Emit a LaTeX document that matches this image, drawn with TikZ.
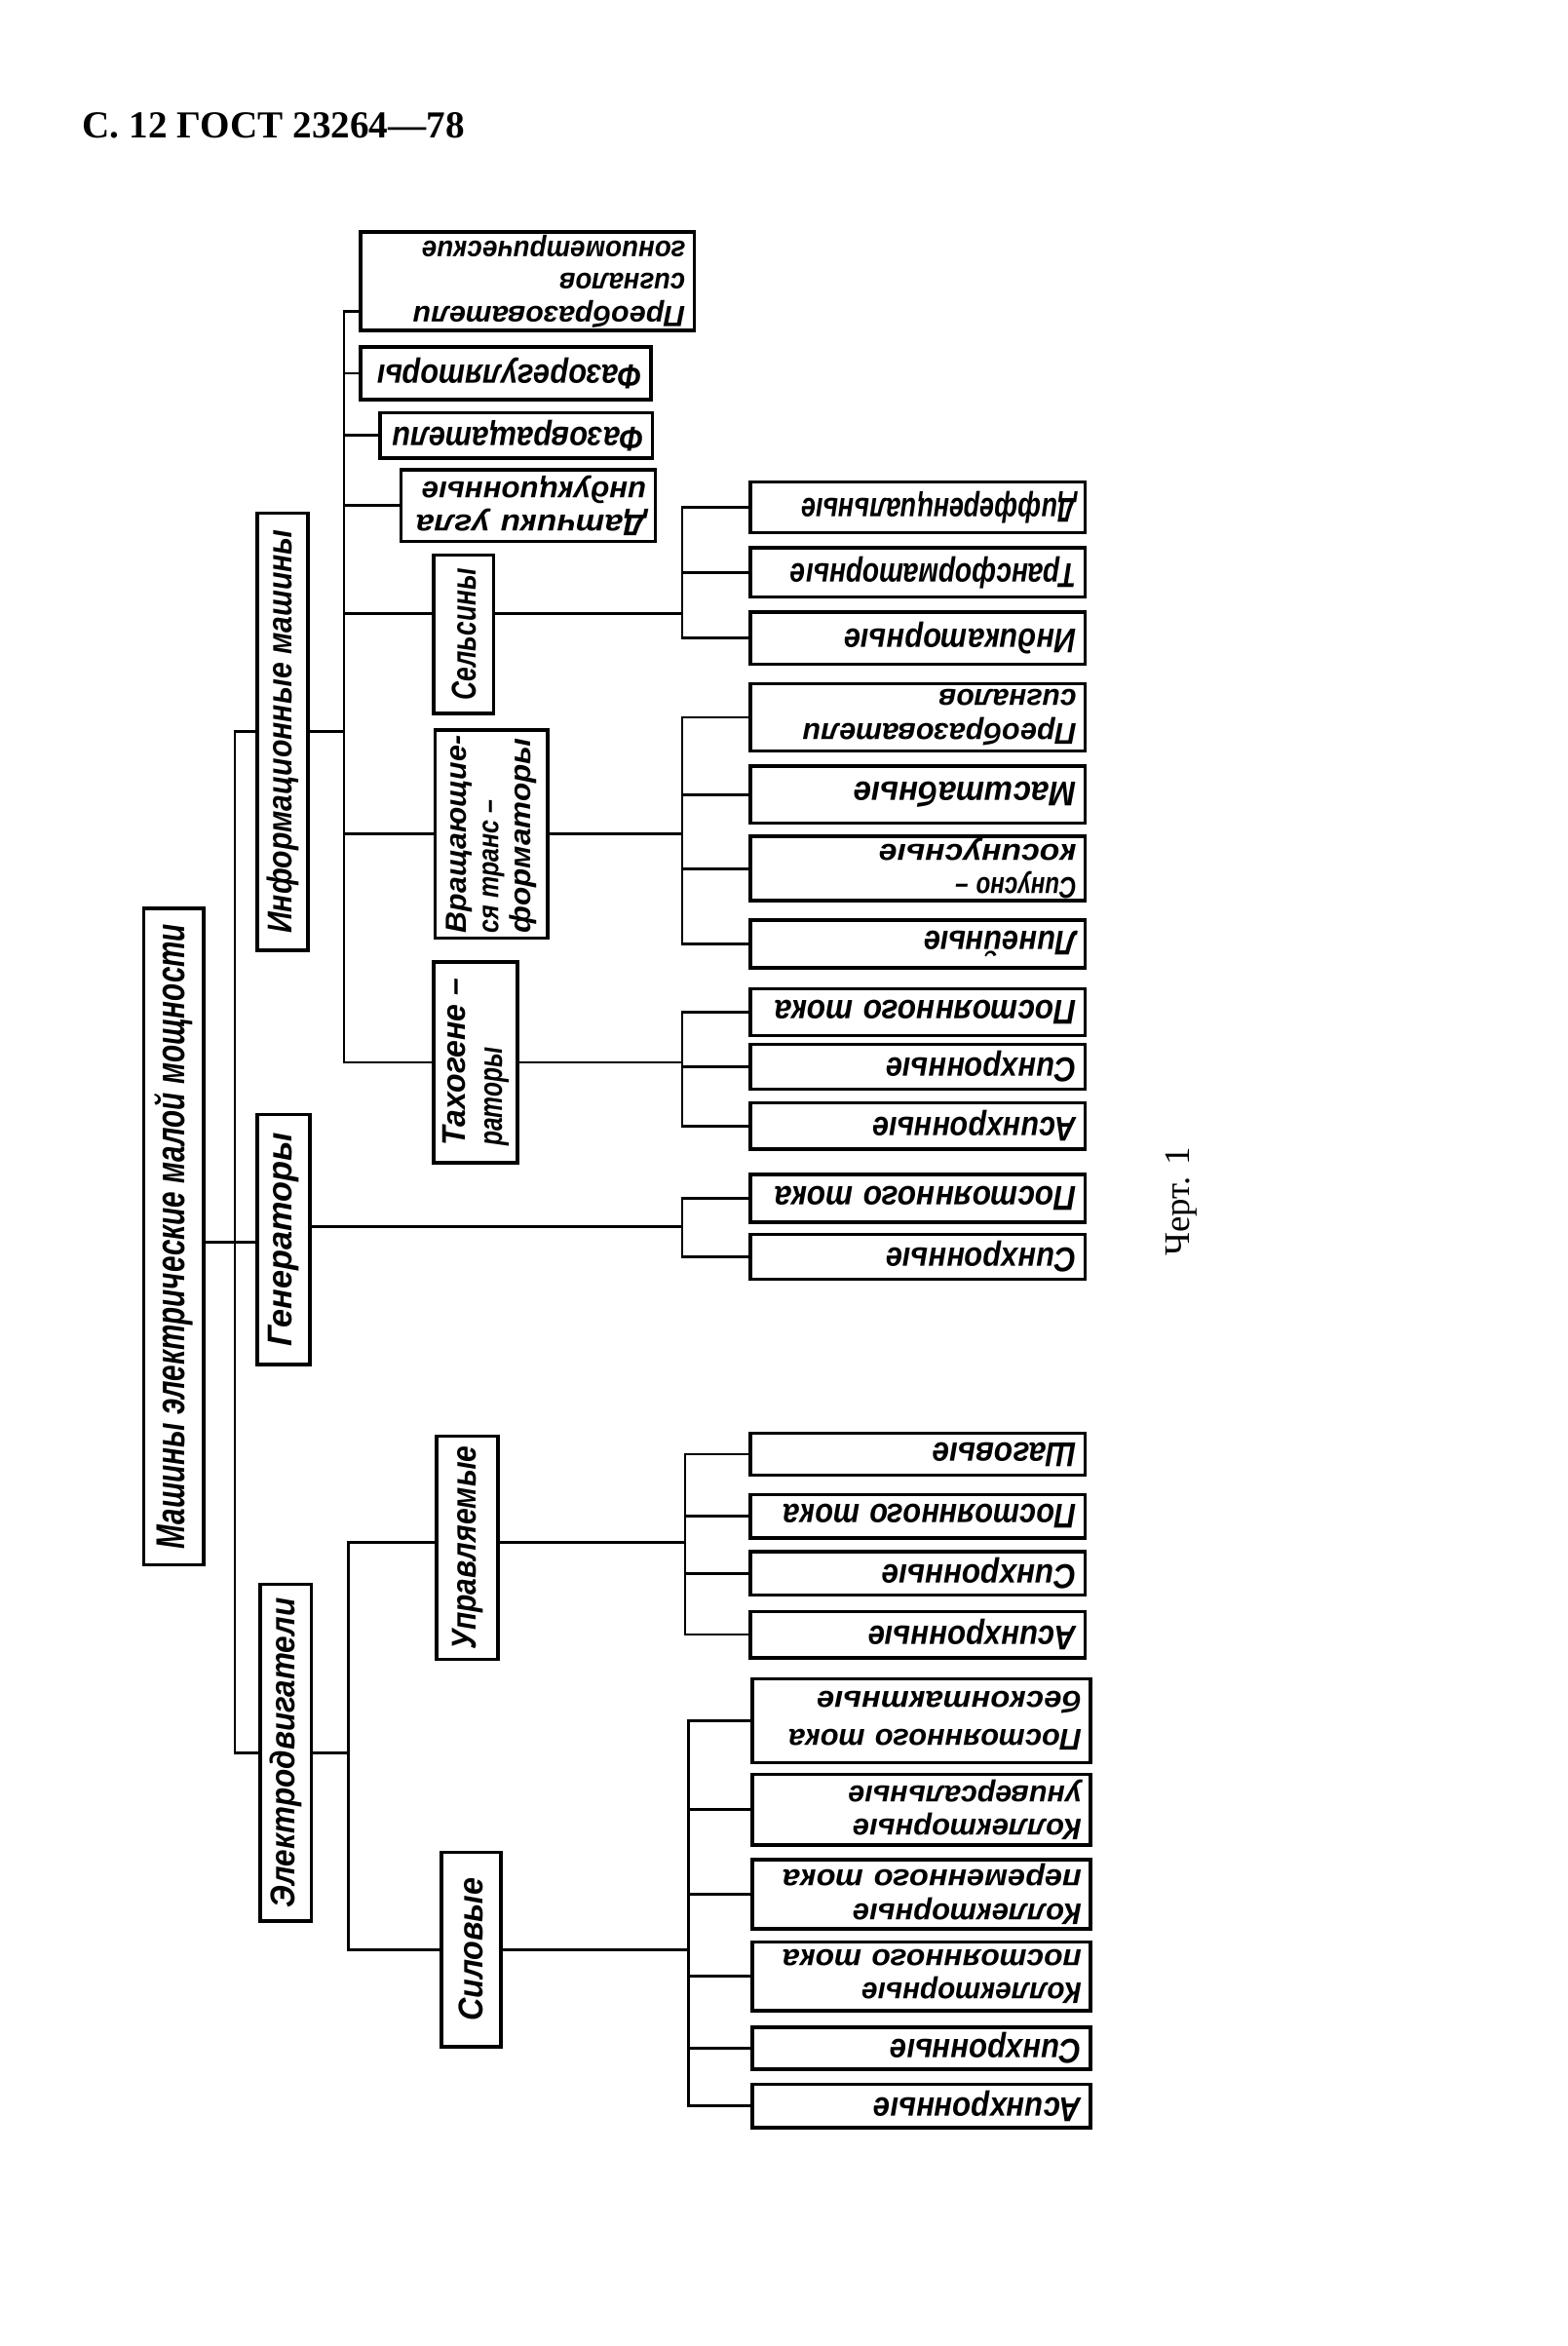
\documentclass[tikz,border=0pt]{standalone}
\usepackage{fontspec}
\usepackage{graphicx}
\setmainfont{Liberation Serif}
\newfontfamily\gostfont{Liberation Sans}
\newcommand{\fitw}[2]{\resizebox{#1pt}{\height}{#2}}
\newcommand{\tightlines}{\lineskiplimit=-100pt\relax}
\tikzset{
  box/.style={draw, line width=2.3pt, inner sep=0pt, font=\gostfont\bfseries\itshape\fontsize{23}{25}\selectfont\tightlines},
  twolines/.style={font=\gostfont\bfseries\itshape\fontsize{20}{22.4}\selectfont\tightlines},
  threelines/.style={font=\gostfont\bfseries\itshape\fontsize{19.5}{21.8}\selectfont\tightlines},
  leafbox/.style={box, rotate=180, align=left, inner xsep=6pt},
  vbox/.style={box, rotate=90},
  conn/.style={line width=1.8pt, line cap=rect},
}
\begin{document}
\begin{tikzpicture}[x=1pt,y=-1pt]
\fill[white] (0,0) rectangle (1048,1568);
\useasboundingbox (0,0) rectangle (1048,1568);

% title and caption
\node[anchor=base west, inner sep=0pt, font=\bfseries\fontsize{25.5}{30}\selectfont] (title) at (55,92) {С. 12 ГОСТ 23264—78};
\node[rotate=90, inner sep=0pt, font=\fontsize{24}{28}\selectfont] (chert) at (790,803) {Черт. 1};

% root and level 1
\node[vbox, minimum width=439pt, minimum height=40pt, font=\gostfont\bfseries\itshape\fontsize{27}{28}\selectfont] (root) at (116,826.5) {\fitw{418}{Машины электрические малой мощности}};
\node[vbox, minimum width=292pt, minimum height=34pt] (info) at (189,489) {\fitw{270}{Информационные машины}};
\node[vbox, minimum width=167pt, minimum height=35pt] (gen) at (189.5,828.5) {\fitw{143}{Генераторы}};
\node[vbox, minimum width=225pt, minimum height=34pt] (elec) at (191,1171.5) {\fitw{207}{Электродвигатели}};

% level 2
\node[vbox, minimum width=106pt, minimum height=40pt] (sel) at (310,424) {\fitw{88}{Сельсины}};
\node[vbox, threelines, minimum width=139pt, minimum height=75pt, align=left] (vt) at (328.5,557.5) {\fitw{132}{Вращающие-}\\\fitw{89}{ся транс –}\\\fitw{130}{форматоры}};
\node[vbox, minimum width=134pt, minimum height=56pt, align=left, font=\gostfont\bfseries\itshape\fontsize{22}{24.6}\selectfont\tightlines] (tg) at (318,710) {\fitw{112}{Тахогене –}\\\fitw{66}{раторы}};
\node[vbox, minimum width=149pt, minimum height=41pt] (upr) at (312.5,1034.5) {\fitw{136}{Управляемые}};
\node[vbox, minimum width=130pt, minimum height=40pt] (sil) at (315,1303) {\fitw{96}{Силовые}};

% information machines: direct leaves
\node[leafbox, threelines, text width=211pt, minimum height=66pt] (pg) at (352.5,188) {\fitw{182}{Преобразователи}\\\fitw{84}{сигналов}\\\fitw{176}{гониометрические}};
\node[leafbox, text width=182pt, minimum height=35pt] (fr) at (338,249.5) {\fitw{177}{Фазорегуляторы}};
\node[leafbox, text width=170pt, minimum height=30pt] (fv) at (345,291) {\fitw{168}{Фазовращатели}};
\node[leafbox, twolines, text width=158pt, minimum height=48pt] (du) at (353,338) {\fitw{154}{Датчики угла}\\\fitw{150}{индукционные}};

% selsyns
\node[leafbox, text width=212pt, minimum height=34pt] (ldif) at (613.5,339) {\fitw{184}{Дифференциальные}};
\node[leafbox, text width=212pt, minimum height=33pt] (ltr) at (613.5,382.5) {\fitw{191}{Трансформаторные}};
\node[leafbox, text width=212pt, minimum height=35pt] (lind) at (613.5,426.5) {\fitw{155}{Индикаторные}};

% rotating transformers
\node[leafbox, twolines, text width=212pt, minimum height=45pt] (lps) at (613.5,479.5) {\fitw{183}{Преобразователи}\\\fitw{92}{сигналов}};
\node[leafbox, text width=212pt, minimum height=38pt] (lms) at (613.5,531) {\fitw{149}{Масштабные}};
\node[leafbox, twolines, text width=212pt, minimum height=43pt] (lsk) at (613.5,580.5) {\fitw{81}{Синусно –}\\\fitw{132}{косинусные}};
\node[leafbox, text width=212pt, minimum height=32pt] (llin) at (613.5,631) {\fitw{102}{Линейные}};

% tachogenerators
\node[leafbox, text width=212pt, minimum height=31pt] (tpt) at (613.5,676.5) {\fitw{202}{Постоянного тока}};
\node[leafbox, text width=212pt, minimum height=30pt] (tsn) at (613.5,713) {\fitw{127}{Синхронные}};
\node[leafbox, text width=212pt, minimum height=31pt] (tas) at (613.5,752.5) {\fitw{136}{Асинхронные}};

% generators
\node[leafbox, text width=212pt, minimum height=32pt] (gpt) at (613.5,801) {\fitw{202}{Постоянного тока}};
\node[leafbox, text width=212pt, minimum height=30pt] (gsn) at (613.5,840) {\fitw{127}{Синхронные}};

% controlled motors
\node[leafbox, text width=212pt, minimum height=28pt] (ush) at (613.5,972) {\fitw{96}{Шаговые}};
\node[leafbox, text width=212pt, minimum height=29pt] (upt) at (613.5,1013.5) {\fitw{196}{Постоянного тока}};
\node[leafbox, text width=212pt, minimum height=29pt] (usn) at (613.5,1051.5) {\fitw{130}{Синхронные}};
\node[leafbox, text width=212pt, minimum height=31pt] (uas) at (613.5,1092.5) {\fitw{139}{Асинхронные}};

% power motors
\node[leafbox, twolines, text width=214pt, minimum height=56pt] (spb) at (616,1150) {\fitw{196}{Постоянного тока}\\[3pt]\fitw{177}{бесконтактные}};
\node[leafbox, twolines, text width=214pt, minimum height=47pt] (sku) at (616,1209.5) {\fitw{153}{Коллекторные}\\\fitw{156}{универсальные}};
\node[leafbox, twolines, text width=214pt, minimum height=46pt] (skp) at (616,1266) {\fitw{153}{Коллекторные}\\\fitw{200}{переменного тока}};
\node[leafbox, twolines, text width=214pt, minimum height=46pt] (skc) at (616,1321) {\fitw{147}{Коллекторные}\\\fitw{200}{постоянного тока}};
\node[leafbox, text width=214pt, minimum height=28pt] (ssn) at (616,1369) {\fitw{128}{Синхронные}};
\node[leafbox, text width=214pt, minimum height=29pt] (sas) at (616,1407.5) {\fitw{139}{Асинхронные}};

% bus coordinates
\coordinate (b1) at (157,0);
\coordinate (b2) at (230,0);
\coordinate (b3) at (233,0);
\coordinate (s1) at (456,0);
\coordinate (s2) at (456,0);
\coordinate (s3) at (456,0);
\coordinate (s4) at (456,0);
\coordinate (s5) at (458,0);
\coordinate (s6) at (460,0);

% root -> level 1
\coordinate (rootR) at ([yshift=-3.5pt]root.south);
\draw[conn] (rootR) -- (rootR -| gen.north);
\draw[conn] (info.north) -- (b1 |- info.north) -- (b1 |- elec.north) -- (elec.north);

% information machines
\coordinate (pgL) at ([yshift=-20pt]pg.east);
\coordinate (selL) at ([yshift=14pt]sel.north);
\coordinate (selR) at ([yshift=14pt]sel.south);
\draw[conn] (info.south) -- (info.south -| b2);
\draw[conn] (pgL) -- (pgL -| b2) -- (b2 |- tg.north) -- (tg.north);
\draw[conn] (b2 |- fr.east) -- (fr.east);
\draw[conn] (b2 |- fv.east) -- (fv.east);
\draw[conn] (b2 |- du.east) -- (du.east);
\draw[conn] (b2 |- selL) -- (selL);
\draw[conn] (b2 |- vt.north) -- (vt.north);

% selsyns
\draw[conn] (selR) -- (selR -| s1);
\draw[conn] (ldif.east) -- (s1 |- ldif.east) -- (s1 |- lind.east) -- (lind.east);
\draw[conn] (s1 |- ltr.east) -- (ltr.east);

% rotating transformers
\draw[conn] (vt.south) -- (vt.south -| s2);
\draw[conn] (lps.east) -- (s2 |- lps.east) -- (s2 |- llin.east) -- (llin.east);
\draw[conn] (s2 |- lms.east) -- (lms.east);
\draw[conn] (s2 |- lsk.east) -- (lsk.east);

% tachogenerators
\draw[conn] (tg.south) -- (tg.south -| s3);
\draw[conn] (tpt.east) -- (s3 |- tpt.east) -- (s3 |- tas.east) -- (tas.east);
\draw[conn] (s3 |- tsn.east) -- (tsn.east);

% generators
\coordinate (genR) at ([yshift=8.5pt]gen.south);
\draw[conn] (genR) -- (genR -| s4);
\draw[conn] (gpt.east) -- (s4 |- gpt.east) -- (s4 |- gsn.east) -- (gsn.east);

% electric motors
\coordinate (uprL) at ([yshift=3.5pt]upr.north);
\coordinate (uprR) at ([yshift=3.5pt]upr.south);
\draw[conn] (elec.south) -- (elec.south -| b3);
\draw[conn] (uprL) -- (uprL -| b3) -- (b3 |- sil.north) -- (sil.north);
\draw[conn] (uprR) -- (uprR -| s5);
\draw[conn] (ush.east) -- (s5 |- ush.east) -- (s5 |- uas.east) -- (uas.east);
\draw[conn] (s5 |- upt.east) -- (upt.east);
\draw[conn] (s5 |- usn.east) -- (usn.east);
\draw[conn] (sil.south) -- (sil.south -| s6);
\draw[conn] (spb.east) -- (s6 |- spb.east) -- (s6 |- sas.east) -- (sas.east);
\draw[conn] (s6 |- sku.east) -- (sku.east);
\draw[conn] (s6 |- skp.east) -- (skp.east);
\draw[conn] (s6 |- skc.east) -- (skc.east);
\draw[conn] (s6 |- ssn.east) -- (ssn.east);
\end{tikzpicture}
\end{document}
